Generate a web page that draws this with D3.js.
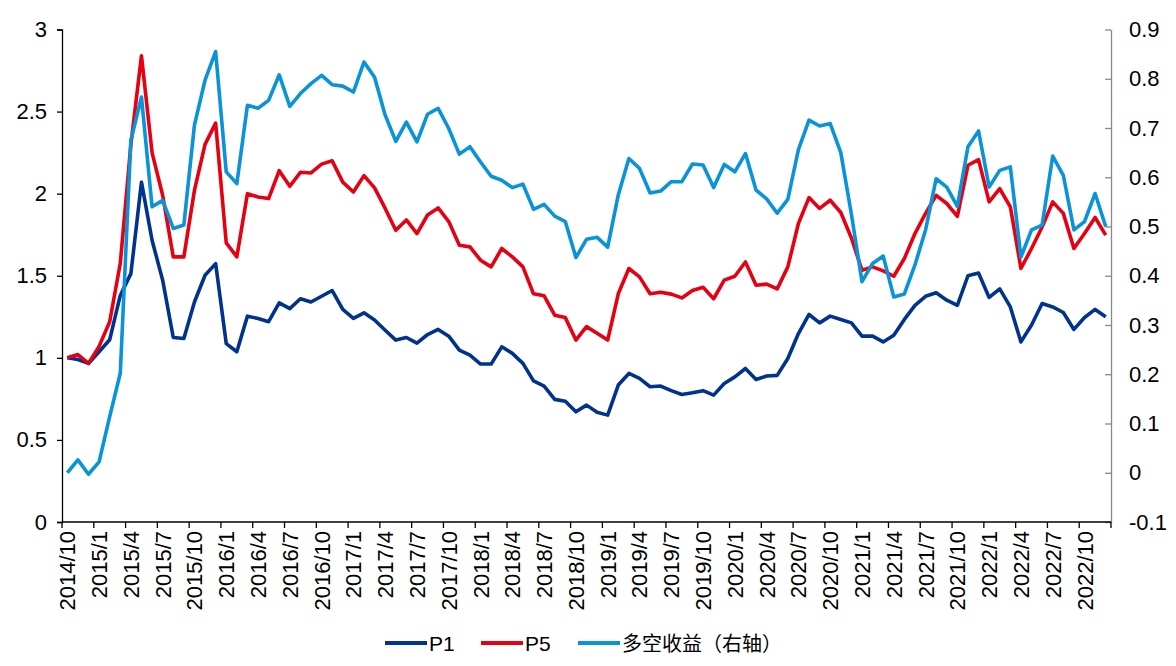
<!DOCTYPE html>
<meta charset="utf-8">
<script src="https://cdn.jsdelivr.net/npm/d3@7"></script>
<style type="text/css">
    body { margin: 0; background: #fff; }
    .axis text { font-family: "Liberation Sans", Arial, sans-serif; font-size: 22px; fill: #000; }
    .legend text { fill: #000; }
</style>
<body>
<script>
    // months 2014/10 .. 2022/12
    var months = [];
    for (var y = 2014, m = 10; y < 2023; ) {
        months.push(y + "/" + m);
        m++;
        if (m > 12) { m = 1; y++; }
    }

    var p1 = [1.00, 0.99, 0.966, 1.037, 1.11, 1.38, 1.513, 2.07, 1.716, 1.473,
        1.124, 1.118, 1.34, 1.503, 1.574, 1.087, 1.037, 1.254, 1.24, 1.22,
        1.335, 1.30, 1.36, 1.34, 1.375, 1.41, 1.295, 1.24, 1.274, 1.23,
        1.168, 1.108, 1.124, 1.09, 1.142, 1.173, 1.132, 1.047, 1.016, 0.962,
        0.962, 1.067, 1.027, 0.966, 0.86, 0.828, 0.747, 0.735, 0.671, 0.712,
        0.668, 0.651, 0.834, 0.905, 0.875, 0.824, 0.828, 0.80, 0.777, 0.787,
        0.80, 0.773, 0.844, 0.884, 0.935, 0.868, 0.889, 0.893, 0.996, 1.148,
        1.264, 1.213, 1.254, 1.234, 1.213, 1.132, 1.132, 1.097, 1.138, 1.234,
        1.32, 1.375, 1.396, 1.351, 1.32, 1.50, 1.517, 1.368, 1.42, 1.31,
        1.097, 1.20, 1.331, 1.31, 1.276, 1.173, 1.246, 1.295, 1.25];

    var p5 = [1.00, 1.02, 0.966, 1.07, 1.22, 1.575, 2.30, 2.84, 2.25, 1.99,
        1.615, 1.615, 2.02, 2.30, 2.43, 1.70, 1.615, 2.0, 1.98, 1.97,
        2.14, 2.045, 2.13, 2.126, 2.18, 2.20, 2.07, 2.01, 2.11, 2.035,
        1.91, 1.777, 1.84, 1.757, 1.87, 1.913, 1.83, 1.686, 1.676, 1.595,
        1.554, 1.666, 1.615, 1.554, 1.39, 1.378, 1.26, 1.245, 1.108, 1.19,
        1.15, 1.108, 1.39, 1.544, 1.493, 1.39, 1.40, 1.388, 1.365, 1.41,
        1.43, 1.36, 1.473, 1.497, 1.584, 1.442, 1.449, 1.42, 1.554, 1.818,
        1.976, 1.91, 1.96, 1.885, 1.73, 1.534, 1.554, 1.53, 1.497, 1.605,
        1.757, 1.88, 1.99, 1.94, 1.862, 2.173, 2.207, 1.95, 2.03, 1.92,
        1.544, 1.666, 1.797, 1.95, 1.88, 1.666, 1.757, 1.855, 1.747];

    var longShort = [0.00, 0.026, -0.003, 0.022, 0.114, 0.202, 0.675, 0.763, 0.54, 0.553,
        0.496, 0.503, 0.706, 0.797, 0.855, 0.611, 0.587, 0.746, 0.74, 0.756,
        0.808, 0.744, 0.77, 0.79, 0.807, 0.788, 0.785, 0.773, 0.834, 0.803,
        0.726, 0.673, 0.712, 0.672, 0.728, 0.74, 0.699, 0.647, 0.662, 0.631,
        0.602, 0.594, 0.579, 0.586, 0.535, 0.545, 0.521, 0.51, 0.437, 0.474,
        0.478, 0.458, 0.564, 0.638, 0.618, 0.568, 0.572, 0.591, 0.591, 0.627,
        0.625, 0.579, 0.626, 0.611, 0.648, 0.574, 0.556, 0.527, 0.555, 0.656,
        0.716, 0.704, 0.709, 0.65, 0.525, 0.388, 0.425, 0.44, 0.357, 0.363,
        0.422, 0.493, 0.597, 0.58, 0.541, 0.662, 0.694, 0.58, 0.614, 0.621,
        0.438, 0.493, 0.503, 0.643, 0.604, 0.493, 0.51, 0.567, 0.50];

    var leftTicks = [0, 0.5, 1, 1.5, 2, 2.5, 3];
    var rightTicks = [-0.1, 0, 0.1, 0.2, 0.3, 0.4, 0.5, 0.6, 0.7, 0.8, 0.9];

    var names = ["P1", "P5", "多空收益（右轴）"];
    var colors = ["#00338D", "#E60012", "#0A93D8"];

    var width = 1176, height = 666;
    var plot = {left: 62, right: 1111, top: 29.5, bottom: 522};

    var svg = d3.select("body")
        .append("svg")
        .attr("width", width)
        .attr("height", height);

    var xScale = d3.scaleBand().domain(months).range([plot.left, plot.right]),
        yLeft = d3.scaleLinear().domain([0, 3]).range([plot.bottom, plot.top]),
        yRight = d3.scaleLinear().domain([-0.1, 0.9]).range([plot.bottom, plot.top]);

    var bw = xScale.bandwidth();
    function xc(i) { return xScale(months[i]) + bw / 2; }

    function plain(d) {
        var v = Math.round(d * 10) / 10;
        return v === 0 ? "0" : String(v);
    }

    // left axis
    svg.append("g")
        .attr("class", "axis")
        .attr("transform", "translate(" + plot.left + ",0)")
        .call(d3.axisLeft(yLeft).tickValues(leftTicks).tickSize(5).tickPadding(10).tickFormat(plain))
        .call(function(g){
            g.selectAll("path, line").attr("stroke", "#000").attr("stroke-width", 1.3);
        });

    // right axis, ticks inward
    svg.append("g")
        .attr("class", "axis")
        .attr("transform", "translate(" + plot.right + ",0)")
        .call(d3.axisRight(yRight).tickValues(rightTicks)
            .tickSizeInner(-6).tickSizeOuter(0).tickPadding(18)
            .tickFormat(plain))
        .call(function(g){
            g.selectAll("path, line").attr("stroke", "#898989").attr("stroke-width", 1.3);
        });

    // x axis: ticks every 3 months at category boundaries
    var xAxis = svg.append("g").attr("class", "axis x-axis");
    var tickIdx = d3.range(0, months.length + 1, 3);
    xAxis.selectAll("line.tick")
        .data(tickIdx)
        .enter()
        .append("line")
        .attr("x1", function(i){ return i < months.length ? xScale(months[i]) : plot.right; })
        .attr("x2", function(i){ return i < months.length ? xScale(months[i]) : plot.right; })
        .attr("y1", plot.bottom)
        .attr("y2", plot.bottom + 6)
        .attr("stroke", "#000")
        .attr("stroke-width", 1.3);
    xAxis.append("line")
        .attr("x1", plot.left).attr("x2", plot.right)
        .attr("y1", plot.bottom).attr("y2", plot.bottom)
        .attr("stroke", "#000").attr("stroke-width", 1.5);
    xAxis.selectAll("text")
        .data(d3.range(0, months.length, 3))
        .enter()
        .append("text")
        .attr("transform", function(i){
            return "translate(" + (xc(i) + 8) + "," + (plot.bottom + 9) + ") rotate(-90)";
        })
        .attr("text-anchor", "end")
        .text(function(i){ return months[i]; });

    // lines
    var series = [
        {values: p1, y: yLeft},
        {values: p5, y: yLeft},
        {values: longShort, y: yRight}
    ];
    series.forEach(function(s, k){
        var line = d3.line()
            .x(function(d, i){ return xc(i); })
            .y(function(d){ return s.y(d); });
        svg.append("path")
            .datum(s.values)
            .attr("fill", "none")
            .attr("stroke", colors[k])
            .attr("stroke-width", 3.6)
            .attr("stroke-linejoin", "round")
            .attr("d", line);
    });

    // legend
    var legendX = [385, 481, 578];
    var legend = svg.append("g").attr("class", "legend");
    names.forEach(function(n, k){
        legend.append("line")
            .attr("x1", legendX[k]).attr("x2", legendX[k] + 42)
            .attr("y1", 643).attr("y2", 643)
            .attr("stroke", colors[k])
            .attr("stroke-width", 4);
        legend.append("text")
            .attr("x", legendX[k] + 44)
            .attr("y", 651)
            .style("font-family", k < 2 ? '"Liberation Sans", Arial, sans-serif' : '"Noto Sans CJK SC", sans-serif')
            .style("font-size", k < 2 ? "21px" : "20px")
            .text(n);
    });
</script>
</body>
